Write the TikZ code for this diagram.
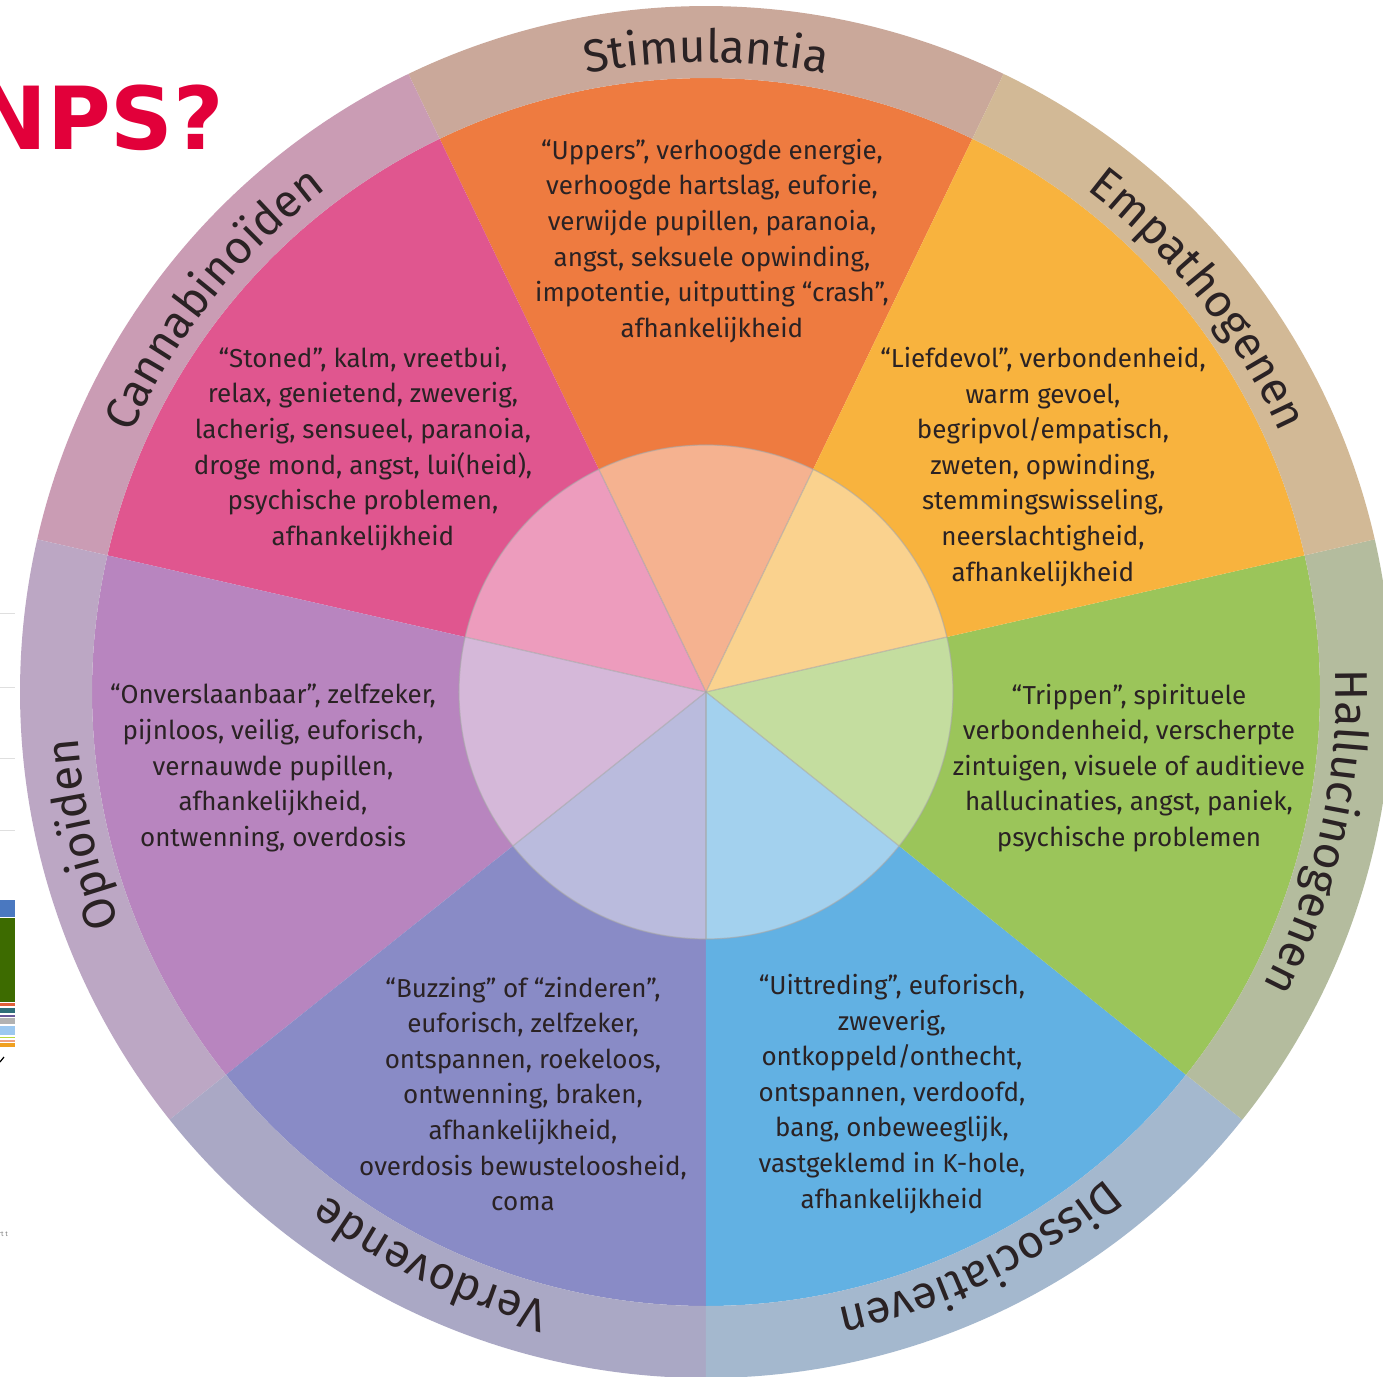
\documentclass[tikz,border=0pt]{standalone}
\usepackage{fontspec}
\setmainfont{Fira Sans}
\newfontfamily\titlefont{DejaVu Sans}
\usetikzlibrary{decorations.text}

\definecolor{stimcol}{HTML}{EE7B40}
\definecolor{stimring}{HTML}{CAA89A}
\definecolor{empcol}{HTML}{F8B33E}
\definecolor{empring}{HTML}{D2B996}
\definecolor{halcol}{HTML}{9BC55A}
\definecolor{halring}{HTML}{B4BC9E}
\definecolor{discol}{HTML}{62B1E3}
\definecolor{disring}{HTML}{A4B8CE}
\definecolor{verdcol}{HTML}{898BC6}
\definecolor{verdring}{HTML}{AAA8C5}
\definecolor{opicol}{HTML}{B885BF}
\definecolor{opiring}{HTML}{BCA7C4}
\definecolor{cancol}{HTML}{E0568F}
\definecolor{canring}{HTML}{CA9CB4}
\definecolor{textgrey}{HTML}{2A2224}
\definecolor{npsred}{HTML}{E2003A}
\definecolor{barblue}{HTML}{4A78C0}
\definecolor{bargreen}{HTML}{3D6B00}
\definecolor{barred}{HTML}{E0603A}
\definecolor{barteal}{HTML}{2F6E78}
\definecolor{barpurple}{HTML}{6A5A9A}
\definecolor{barsky}{HTML}{9CC8F0}
\definecolor{barlime}{HTML}{B8D840}
\definecolor{barsalmon}{HTML}{F0A080}
\definecolor{barorange}{HTML}{F0A020}

\newcommand\ringfont{\fontsize{23}{23}\selectfont}

\tikzset{
  sectortext/.style={align=center, inner sep=0pt, text=textgrey,
    font=\fontsize{13}{17.8}\selectfont},
  ringlabel/.style={decorate, decoration={text along path, text align=center,
    text color=textgrey, text={|\ringfont|#1}}},
  innerline/.style={draw=gray!70, line width=0.6pt, opacity=0.6},
}

\begin{document}
\begin{tikzpicture}[x=0.5pt, y=0.5pt]
  \useasboundingbox (-706,-685) rectangle (677,692);
  \clip (-706,-685) rectangle (677,692);
  \fill[white] (-706,-685) rectangle (677,692);
  \coordinate (centre) at (0,0);

  \fill[stimcol] (centre) -- (64.29:614) arc[start angle=64.29, end angle=115.71, radius=614] -- cycle;
  \fill[cancol] (centre) -- (115.71:614) arc[start angle=115.71, end angle=167.14, radius=614] -- cycle;
  \fill[opicol] (centre) -- (167.14:614) arc[start angle=167.14, end angle=218.57, radius=614] -- cycle;
  \fill[verdcol] (centre) -- (218.57:614) arc[start angle=218.57, end angle=270, radius=614] -- cycle;
  \fill[discol] (centre) -- (270:614) arc[start angle=270, end angle=321.43, radius=614] -- cycle;
  \fill[halcol] (centre) -- (321.43:614) arc[start angle=321.43, end angle=372.86, radius=614] -- cycle;
  \fill[empcol] (centre) -- (12.86:614) arc[start angle=12.86, end angle=64.29, radius=614] -- cycle;

  \fill[stimring] (64.29:614) arc[start angle=64.29, end angle=115.71, radius=614] -- (115.71:686) arc[start angle=115.71, end angle=64.29, radius=686] -- cycle;
  \fill[canring] (115.71:614) arc[start angle=115.71, end angle=167.14, radius=614] -- (167.14:686) arc[start angle=167.14, end angle=115.71, radius=686] -- cycle;
  \fill[opiring] (167.14:614) arc[start angle=167.14, end angle=218.57, radius=614] -- (218.57:686) arc[start angle=218.57, end angle=167.14, radius=686] -- cycle;
  \fill[verdring] (218.57:614) arc[start angle=218.57, end angle=270, radius=614] -- (270:686) arc[start angle=270, end angle=218.57, radius=686] -- cycle;
  \fill[disring] (270:614) arc[start angle=270, end angle=321.43, radius=614] -- (321.43:686) arc[start angle=321.43, end angle=270, radius=686] -- cycle;
  \fill[halring] (321.43:614) arc[start angle=321.43, end angle=372.86, radius=614] -- (372.86:686) arc[start angle=372.86, end angle=321.43, radius=686] -- cycle;
  \fill[empring] (12.86:614) arc[start angle=12.86, end angle=64.29, radius=614] -- (64.29:686) arc[start angle=64.29, end angle=12.86, radius=686] -- cycle;

  \fill[white, opacity=0.42] (centre) circle[radius=247];
  \draw[innerline] (centre) -- (64.29:247);
  \draw[innerline] (centre) -- (115.71:247);
  \draw[innerline] (centre) -- (167.14:247);
  \draw[innerline] (centre) -- (218.57:247);
  \draw[innerline] (centre) -- (270:247);
  \draw[innerline] (centre) -- (321.43:247);
  \draw[innerline] (centre) -- (12.86:247);
  \draw[innerline] (centre) circle[radius=247];

  \path[ringlabel=Stimulantia] (115.71:630) arc[start angle=115.71, end angle=64.29, radius=630];
  \path[ringlabel=Empathogenen] (64.29:630) arc[start angle=64.29, end angle=12.86, radius=630];
  \path[ringlabel=Hallucinogenen] (12.86:630) arc[start angle=12.86, end angle=-38.57, radius=630];
  \path[ringlabel=Dissociatieven] (-38.57:630) arc[start angle=-38.57, end angle=-90, radius=630];
  \path[ringlabel=Verdovende] (-90:630) arc[start angle=-90, end angle=-141.43, radius=630];
  \path[ringlabel=Opioïden] (-141.43:630) arc[start angle=-141.43, end angle=-192.86, radius=630];
  \path[ringlabel=Cannabinoïden] (167.14:630) arc[start angle=167.14, end angle=115.71, radius=630];

  \node[sectortext] (stimtext) at (6,451) {“Uppers”, verhoogde energie,\\verhoogde hartslag, euforie,\\verwijde pupillen, paranoia,\\angst, seksuele opwinding,\\impotentie, uitputting “crash”,\\afhankelijkheid};
  \node[sectortext] (cantext) at (-343,243) {“Stoned”, kalm, vreetbui,\\relax, genietend, zweverig,\\lacherig, sensueel, paranoia,\\droge mond, angst, lui(heid),\\psychische problemen,\\afhankelijkheid};
  \node[sectortext] (emptext) at (337,225) {“Liefdevol”, verbondenheid,\\warm gevoel,\\begripvol/empatisch,\\zweten, opwinding,\\stemmingswisseling,\\neerslachtigheid,\\afhankelijkheid};
  \node[sectortext] (haltext) at (423,-76) {“Trippen”, spirituele\\verbondenheid, verscherpte\\zintuigen, visuele of auditieve\\hallucinaties, angst, paniek,\\psychische problemen};
  \node[sectortext] (opitext) at (-433,-76) {“Onverslaanbaar”, zelfzeker,\\pijnloos, veilig, euforisch,\\vernauwde pupillen,\\afhankelijkheid,\\ontwenning, overdosis};
  \node[sectortext] (verdtext) at (-183,-402) {“Buzzing” of “zinderen”,\\euforisch, zelfzeker,\\ontspannen, roekeloos,\\ontwenning, braken,\\afhankelijkheid,\\overdosis bewusteloosheid,\\coma};
  \node[sectortext] (distext) at (186,-402) {“Uittreding”, euforisch,\\zweverig,\\ontkoppeld/onthecht,\\ontspannen, verdoofd,\\bang, onbeweeglijk,\\vastgeklemd in K-hole,\\afhankelijkheid};

  \node[anchor=base west, inner sep=0pt, text=npsred, font=\titlefont\bfseries\fontsize{43.5}{43.5}\selectfont] (title) at (-732,542) {NPS?};

  \draw[gray!25] (-706,79) -- (-691,79);
  \draw[gray!25] (-706,5) -- (-691,5);
  \draw[gray!25] (-706,-66) -- (-691,-66);
  \draw[gray!25] (-706,-138) -- (-691,-138);
  \fill[barblue] (-706,-208) rectangle (-691,-225);
  \fill[bargreen] (-706,-226) rectangle (-691,-310);
  \fill[barred] (-706,-311) rectangle (-691,-314);
  \fill[barteal] (-706,-316) rectangle (-691,-321);
  \fill[barpurple] (-706,-323) rectangle (-691,-325);
  \fill[gray!60] (-706,-326) rectangle (-691,-332);
  \fill[barsky] (-706,-334) rectangle (-691,-343);
  \fill[barlime] (-706,-345) rectangle (-691,-346);
  \fill[barsalmon] (-706,-348) rectangle (-691,-350);
  \fill[barorange] (-706,-351) rectangle (-691,-355);
  \draw[line width=0.6pt] (-706,-370) -- (-702,-365);
  \node[anchor=west, inner sep=0pt, text=gray, font=\fontsize{3.5}{4}\selectfont] (cutoff) at (-708,-542) {rt t};
\end{tikzpicture}
\end{document}
